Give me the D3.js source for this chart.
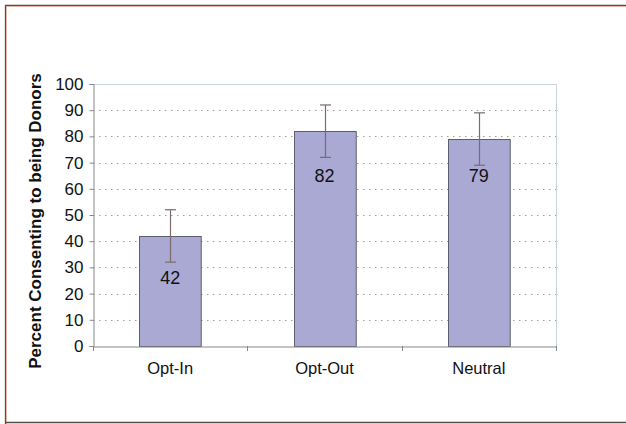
<!DOCTYPE html>
<html><head><meta charset="utf-8">
<script src="https://cdn.jsdelivr.net/npm/d3@7"></script>
<style>body{margin:0;background:#fff}svg{display:block}</style>
</head><body>
<script>
const categories = ["Opt-In", "Opt-Out", "Neutral"];
const values = [42, 82, 79];
const errLow = [32, 72, 69];
const errHigh = [52, 92, 89];
const labelPos = [26.3, 65, 65];
const yTicks = [0,10,20,30,40,50,60,70,80,90,100];
const yTitle = "Percent Consenting to being Donors";

const W = 626, H = 424;
const FONT = "Liberation Sans, Arial, sans-serif";
const m = {left: 93, top: 84};
const svg = d3.select("body").append("svg").attr("width", W).attr("height", H);

// outer frame
svg.append("path").attr("d", `M5.5,${H+2} V5.5 H${W+2}`).attr("fill","none").attr("stroke","#5a4a48").attr("stroke-width",1.3);
svg.append("path").attr("d", `M6.5,${H+2} V6.5 H${W+2}`).attr("fill","none").attr("stroke","#e8b8a8").attr("stroke-width",1);
svg.append("line").attr("x1",5).attr("x2",W+2).attr("y1",422.5).attr("y2",422.5).attr("stroke","#5a4a48").attr("stroke-width",1.3);

const x = d3.scaleBand().domain(categories).range([m.left, 556]).paddingInner(0.6).paddingOuter(0.3);
const y = d3.scaleLinear().domain([0,100]).range([346, 84]);

// plot border top/right
svg.append("path").attr("d", `M${m.left},84.5 H556.5 V346`).attr("fill","none").attr("stroke","#c8d4dc").attr("stroke-width",1);

// grid
svg.append("g").selectAll("line").data(yTicks.filter(d=>d>0 && d<100)).join("line")
  .attr("x1", m.left).attr("x2", 556).attr("y1", d=>Math.round(y(d))+0.5).attr("y2", d=>Math.round(y(d))+0.5)
  .attr("stroke","#a89898").attr("stroke-width",1).attr("stroke-dasharray","1.5,4.5");

// bars
svg.append("g").selectAll("rect").data(values).join("rect")
  .attr("x",(d,i)=>Math.round(x(categories[i]))+0.5).attr("width",x.bandwidth())
  .attr("y",d=>Math.round(y(d))+0.5).attr("height",d=>y(0)-Math.round(y(d)))
  .attr("fill","#a9a9d4").attr("stroke","#5d5d6e").attr("stroke-width",1);

// error bars
const eg = svg.append("g").attr("stroke","#7b6b6b").attr("stroke-width",1.2);
categories.forEach((c,i)=>{
  const cx = Math.round(x(c)+x.bandwidth()/2)+0.5;
  eg.append("line").attr("x1",cx).attr("x2",cx).attr("y1",y(errHigh[i])).attr("y2",y(errLow[i]));
  eg.append("line").attr("x1",cx-5.5).attr("x2",cx+5.5).attr("y1",y(errHigh[i])).attr("y2",y(errHigh[i]));
  eg.append("line").attr("x1",cx-5.5).attr("x2",cx+5.5).attr("y1",y(errLow[i])).attr("y2",y(errLow[i]));
});

// value labels
svg.append("g").selectAll("text").data(values).join("text")
  .attr("x",(d,i)=>x(categories[i])+x.bandwidth()/2).attr("y",(d,i)=>y(labelPos[i]))
  .attr("dy","0.36em").attr("text-anchor","middle")
  .style("font-family",FONT).style("font-size","18px").attr("fill","#111")
  .text(d=>d);

// y axis
const ya = svg.append("g").attr("transform",`translate(${m.left}.5,0)`)
  .call(d3.axisLeft(y).tickValues(yTicks).tickSize(4).tickPadding(6));
ya.select(".domain").attr("stroke","#888");
ya.selectAll(".tick line").attr("stroke","#888");
ya.selectAll("text").style("font-family",FONT).style("font-size","17px").attr("fill","#111");

// x axis
const xa = svg.append("g").attr("transform",`translate(0,346.5)`)
  .call(d3.axisBottom(x).tickSize(0).tickPadding(16).tickSizeOuter(0));
xa.select(".domain").attr("stroke","#888");
xa.selectAll("text").style("font-family",FONT).style("font-size","16.5px").attr("fill","#111");
svg.append("g").selectAll("line").data([0,1,2,3]).join("line")
  .attr("x1",d=>Math.round(m.left+d*(556-m.left)/3)+0.5).attr("x2",d=>Math.round(m.left+d*(556-m.left)/3)+0.5)
  .attr("y1",346).attr("y2",351).attr("stroke","#888");

// y title
svg.append("text").attr("transform",`translate(41,221) rotate(-90)`)
  .attr("text-anchor","middle").style("font-family",FONT)
  .style("font-weight","bold").style("font-size","17px").attr("fill","#111").text(yTitle);
</script>
</body></html>
